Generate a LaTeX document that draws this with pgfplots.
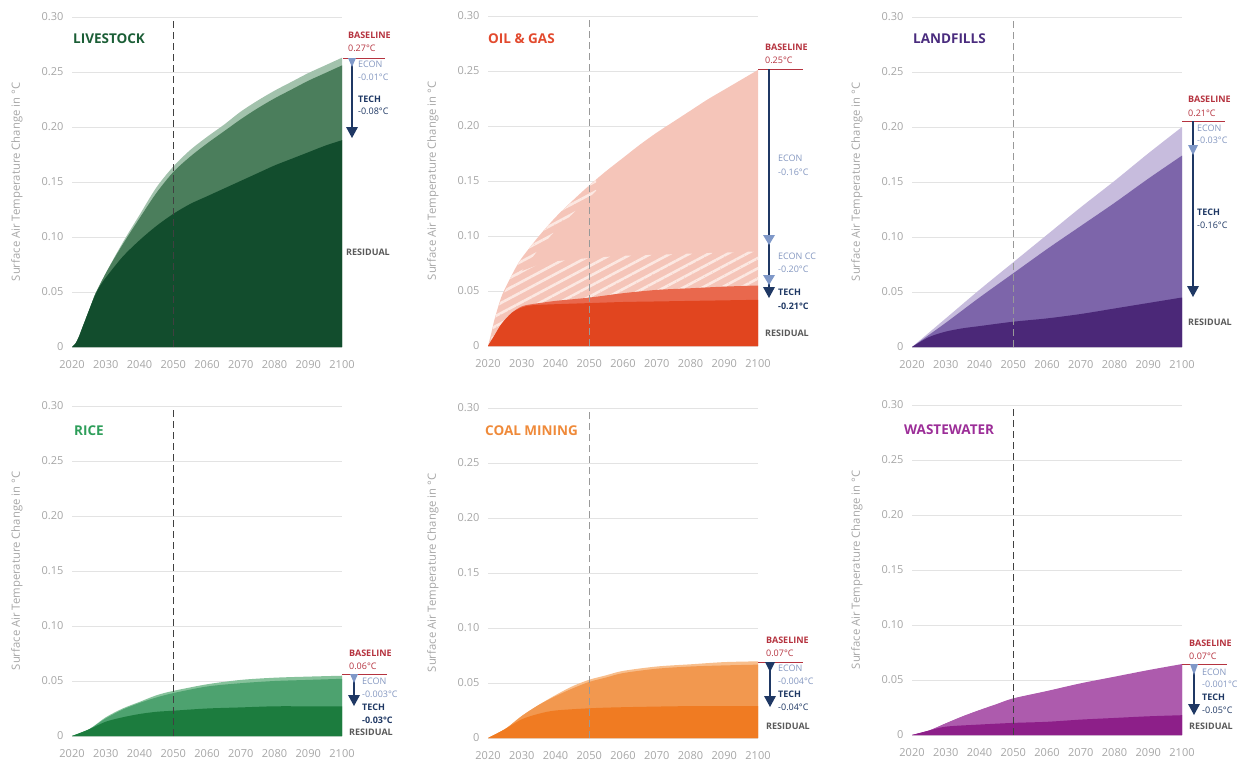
\documentclass[border=0pt]{standalone}
\usepackage{fontspec}
\setmainfont{Open Sans}
\usepackage{pgfplots}
\pgfplotsset{compat=1.18}
\usetikzlibrary{patterns.meta}

\definecolor{gridc}{HTML}{E3E3E3}
\definecolor{tickc}{HTML}{A6A6A6}
\definecolor{basered}{HTML}{B5333F}
\definecolor{econc}{HTML}{8497C0}
\definecolor{navyc}{HTML}{1F3864}
\definecolor{econhead}{HTML}{7F98C8}
\definecolor{resc}{HTML}{595959}
\definecolor{lsT}{HTML}{1B5E36}\definecolor{lsL}{HTML}{A2C2AC}\definecolor{lsM}{HTML}{4B7E5C}\definecolor{lsD}{HTML}{124D2D}
\definecolor{ogT}{HTML}{E24A2E}\definecolor{ogL}{HTML}{F5C5B9}\definecolor{ogM}{HTML}{E9684D}\definecolor{ogD}{HTML}{E1451F}\definecolor{ogH}{HTML}{FCE8E2}
\definecolor{lfT}{HTML}{4A2C7E}\definecolor{lfL}{HTML}{C7BCDD}\definecolor{lfM}{HTML}{7D65AA}\definecolor{lfD}{HTML}{4B2878}
\definecolor{rcT}{HTML}{2E9E5A}\definecolor{rcL}{HTML}{86C29B}\definecolor{rcM}{HTML}{4DA26F}\definecolor{rcD}{HTML}{1C7C3E}
\definecolor{clT}{HTML}{EF8A3A}\definecolor{clL}{HTML}{F8BE8C}\definecolor{clM}{HTML}{F2984F}\definecolor{clD}{HTML}{F07B22}
\definecolor{wwT}{HTML}{9C2E98}\definecolor{wwL}{HTML}{AD5BAD}\definecolor{wwD}{HTML}{8D1F89}

\pgfplotsset{panel/.style={
  scale only axis, width=270pt, height=330pt,
  xmin=2020, xmax=2100, ymin=0, ymax=0.30,
  axis line style={draw=none},
  major tick length=0pt,
  xtick={2020,2030,2040,2050,2060,2070,2080,2090,2100},
  xticklabels={2020,2030,2040,2050,2060,2070,2080,2090,2100},
  ytick={0,0.05,0.10,0.15,0.20,0.25,0.30},
  yticklabels={0,0.05,0.10,0.15,0.20,0.25,0.30},
  ymajorgrids, grid style={color=gridc, line width=0.8pt},
  tick label style={font=\fontsize{11}{13}\selectfont, text=tickc},
  xticklabel style={yshift=-10pt},
  yticklabel style={xshift=-5pt},
  ylabel={Surface Air Temperature Change in °C},
  ylabel style={font=\fontsize{11.3}{13}\selectfont, text=tickc, at={(axis description cs:-0.17,0.5)}, anchor=south},
  clip=false,
  anchor=south west,
  every axis plot/.append style={smooth, tension=0.5},
}}
\tikzset{
  ttl/.style={anchor=west, inner sep=0pt, font=\fontsize{13.5}{15}\selectfont\bfseries},
  bl/.style={anchor=west, inner sep=0pt, font=\fontsize{9}{10}\selectfont\bfseries, text=basered},
  blv/.style={anchor=west, inner sep=0pt, font=\fontsize{9}{10}\selectfont, text=basered},
  ec/.style={anchor=west, inner sep=0pt, font=\fontsize{9}{10}\selectfont, text=econc},
  th/.style={anchor=west, inner sep=0pt, font=\fontsize{9}{10}\selectfont\bfseries, text=navyc},
  thv/.style={anchor=west, inner sep=0pt, font=\fontsize{9}{10}\selectfont, text=navyc},
  rs/.style={anchor=west, inner sep=0pt, font=\fontsize{9}{10}\selectfont\bfseries, text=resc},
  dashdark/.style={color=black!75, line width=1pt, dash pattern=on 7pt off 4pt},
  dashlight/.style={color=black!40, line width=1.2pt, dash pattern=on 7pt off 4pt},
}

\begin{document}
\begin{tikzpicture}
\useasboundingbox (0pt,0pt) rectangle (1251pt,-763pt);

%================ LIVESTOCK
\begin{axis}[panel, at={(72pt,-347pt)}]
\addplot[fill=lsL, draw=none] coordinates {(2020,0)(2021,0.003)(2022,0.009)(2023,0.017)(2024,0.025)(2025,0.033)(2026,0.041)(2027,0.049)(2030,0.067)(2033,0.084)(2036,0.100)(2040,0.120)(2045,0.145)(2050,0.164)(2055,0.179)(2060,0.191)(2065,0.202)(2070,0.214)(2075,0.224)(2080,0.233)(2085,0.241)(2090,0.249)(2095,0.256)(2100,0.263)} \closedcycle;
\addplot[fill=lsM, draw=none] coordinates {(2020,0)(2021,0.003)(2022,0.009)(2023,0.017)(2024,0.025)(2025,0.033)(2026,0.041)(2027,0.049)(2030,0.067)(2033,0.083)(2036,0.098)(2040,0.117)(2045,0.140)(2050,0.159)(2055,0.173)(2060,0.185)(2065,0.196)(2070,0.207)(2075,0.217)(2080,0.226)(2085,0.234)(2090,0.242)(2095,0.249)(2100,0.256)} \closedcycle;
\addplot[fill=lsD, draw=none] coordinates {(2020,0)(2021,0.003)(2022,0.009)(2023,0.017)(2024,0.025)(2025,0.033)(2026,0.041)(2027,0.048)(2028,0.054)(2030,0.063)(2035,0.082)(2040,0.097)(2045,0.110)(2050,0.121)(2055,0.130)(2060,0.137)(2065,0.144)(2070,0.151)(2075,0.158)(2080,0.165)(2085,0.171)(2090,0.177)(2095,0.183)(2100,0.188)} \closedcycle;
\draw[dashdark] (axis cs:2050,0) -- (axis cs:2050,0.30);
\coordinate (c1) at (axis cs:2100,0);
\end{axis}
\begin{scope}[shift={(c1)}]
\node[ttl, text=lsT] at (-269pt,308pt) {LIVESTOCK};
\node[bl] at (6pt,312pt) {BASELINE};
\node[blv] at (6pt,299pt) {0.27°C};
\draw[basered, line width=1pt] (1pt,289pt) -- (43pt,289pt);
\draw[navyc, line width=1.2pt] (10pt,289pt) -- (10pt,215pt);
\fill[econhead] (10pt,280pt) -- (6pt,289pt) -- (14pt,289pt) -- cycle;
\fill[navyc] (10pt,209pt) -- (4pt,220pt) -- (16pt,220pt) -- cycle;
\node[ec] at (16pt,283pt) {ECON};
\node[ec] at (16pt,270pt) {-0.01°C};
\node[th] at (16pt,248pt) {TECH};
\node[thv] at (16pt,236pt) {-0.08°C};
\node[rs] at (4pt,95pt) {RESIDUAL};
\end{scope}

%================ OIL & GAS
\begin{axis}[panel, at={(488pt,-346pt)}]
\addplot[fill=ogL, draw=none] coordinates {(2020,0)(2021,0.012)(2022,0.025)(2024,0.045)(2026,0.058)(2028,0.070)(2030,0.080)(2035,0.0996)(2040,0.117)(2045,0.132)(2050,0.146)(2055,0.159)(2060,0.171)(2065,0.183)(2070,0.194)(2075,0.204)(2080,0.214)(2085,0.224)(2090,0.233)(2095,0.242)(2100,0.251)} \closedcycle;
\addplot[sharp plot, pattern={Lines[angle=28,distance=9pt,line width=2.6pt]}, pattern color=ogH, draw=none] coordinates {(2021,0.01)(2022,0.024)(2023,0.035)(2025,0.050)(2027,0.060)(2030,0.068)(2035,0.074)(2040,0.077)(2050,0.080)(2060,0.082)(2070,0.083)(2080,0.084)(2090,0.085)(2100,0.086)(2100,0.055)(2090,0.054)(2080,0.0525)(2070,0.051)(2060,0.048)(2050,0.044)(2040,0.041)(2033,0.038)(2030,0.036)(2027,0.030)(2024,0.020)(2022,0.010)(2021,0.005)} -- cycle;
\addplot[sharp plot, pattern={Lines[angle=28,distance=9pt,line width=2.6pt]}, pattern color=ogH, draw=none] coordinates {(2026,0.058)(2028,0.070)(2030,0.080)(2035,0.0996)(2040,0.117)(2045,0.132)(2050,0.146)(2052,0.151)(2052,0.141)(2050,0.135)(2045,0.120)(2040,0.105)(2035,0.088)(2030,0.068)(2026,0.050)} -- cycle;
\addplot[fill=ogM, draw=none] coordinates {(2020,0)(2021,0.005)(2022,0.010)(2024,0.020)(2027,0.030)(2030,0.036)(2033,0.038)(2040,0.041)(2050,0.044)(2060,0.048)(2070,0.051)(2080,0.0525)(2090,0.054)(2100,0.055)} \closedcycle;
\addplot[fill=ogD, draw=none] coordinates {(2020,0)(2021,0.005)(2022,0.010)(2024,0.020)(2027,0.030)(2030,0.035)(2033,0.037)(2040,0.038)(2050,0.039)(2060,0.040)(2070,0.0405)(2080,0.041)(2090,0.0415)(2100,0.042)} \closedcycle;
\draw[dashlight] (axis cs:2050,0) -- (axis cs:2050,0.30);
\coordinate (c2) at (axis cs:2100,0);
\end{axis}
\begin{scope}[shift={(c2)}]
\node[ttl, text=ogT] at (-270pt,307pt) {OIL \& GAS};
\node[bl] at (7pt,299pt) {BASELINE};
\node[blv] at (7pt,286pt) {0.25°C};
\draw[basered, line width=1pt] (0pt,277pt) -- (45pt,277pt);
\draw[navyc, line width=1.2pt] (11pt,277pt) -- (11pt,55pt);
\fill[econhead] (11pt,101pt) -- (5pt,111pt) -- (17pt,111pt) -- cycle;
\fill[econhead] (11pt,61pt) -- (5pt,71pt) -- (17pt,71pt) -- cycle;
\fill[navyc] (11pt,48pt) -- (5pt,59pt) -- (17pt,59pt) -- cycle;
\node[ec] at (20pt,188pt) {ECON};
\node[ec] at (20pt,174pt) {-0.16°C};
\node[ec] at (20pt,90pt) {ECON CC};
\node[ec] at (20pt,77pt) {-0.20°C};
\node[th] at (20pt,54pt) {TECH};
\node[th] at (20pt,40pt) {-0.21°C};
\node[rs] at (7pt,13pt) {RESIDUAL};
\end{scope}

%================ LANDFILLS
\begin{axis}[panel, at={(912pt,-347pt)}]
\addplot[fill=lfL, draw=none] coordinates {(2020,0)(2030,0.026)(2040,0.052)(2050,0.077)(2060,0.102)(2070,0.127)(2080,0.151)(2090,0.176)(2100,0.200)} \closedcycle;
\addplot[fill=lfM, draw=none] coordinates {(2020,0)(2030,0.022)(2040,0.045)(2050,0.067)(2060,0.089)(2070,0.110)(2080,0.131)(2090,0.153)(2100,0.174)} \closedcycle;
\addplot[fill=lfD, draw=none] coordinates {(2020,0)(2025,0.009)(2030,0.014)(2035,0.017)(2040,0.019)(2050,0.023)(2060,0.026)(2070,0.030)(2080,0.035)(2090,0.040)(2100,0.045)} \closedcycle;
\draw[dashlight] (axis cs:2050,0) -- (axis cs:2050,0.30);
\coordinate (c3) at (axis cs:2100,0);
\end{axis}
\begin{scope}[shift={(c3)}]
\node[ttl, text=lfT] at (-269pt,308pt) {LANDFILLS};
\node[bl] at (6pt,248pt) {BASELINE};
\node[blv] at (6pt,234pt) {0.21°C};
\draw[basered, line width=1pt] (0pt,226pt) -- (43pt,226pt);
\draw[navyc, line width=1.2pt] (11pt,226pt) -- (11pt,57pt);
\fill[econhead] (11pt,192pt) -- (6pt,202pt) -- (16pt,202pt) -- cycle;
\fill[navyc] (11pt,50pt) -- (5pt,61pt) -- (17pt,61pt) -- cycle;
\node[ec] at (15pt,219pt) {ECON};
\node[ec] at (15pt,207pt) {-0.03°C};
\node[th] at (15pt,135pt) {TECH};
\node[thv] at (15pt,122pt) {-0.16°C};
\node[rs] at (6pt,25pt) {RESIDUAL};
\end{scope}

%================ RICE
\begin{axis}[panel, at={(72pt,-736pt)}]
\addplot[fill=rcL, draw=none] coordinates {(2020,0)(2025,0.006)(2030,0.017)(2035,0.025)(2040,0.031)(2045,0.037)(2050,0.041)(2060,0.047)(2070,0.051)(2080,0.053)(2090,0.054)(2100,0.0548)} \closedcycle;
\addplot[fill=rcM, draw=none] coordinates {(2020,0)(2025,0.006)(2030,0.016)(2035,0.024)(2040,0.030)(2045,0.035)(2050,0.039)(2060,0.045)(2070,0.048)(2080,0.050)(2090,0.051)(2100,0.052)} \closedcycle;
\addplot[fill=rcD, draw=none] coordinates {(2020,0)(2025,0.006)(2030,0.013)(2035,0.017)(2040,0.020)(2045,0.022)(2050,0.023)(2060,0.025)(2070,0.026)(2080,0.027)(2090,0.027)(2100,0.027)} \closedcycle;
\draw[dashdark] (axis cs:2050,0) -- (axis cs:2050,0.30);
\coordinate (c4) at (axis cs:2100,0);
\end{axis}
\begin{scope}[shift={(c4)}]
\node[ttl, text=rcT] at (-268pt,305pt) {RICE};
\node[bl] at (7pt,83pt) {BASELINE};
\node[blv] at (7pt,70pt) {0.06°C};
\draw[basered, line width=1pt] (0pt,62pt) -- (45pt,62pt);
\draw[navyc, line width=1.2pt] (12pt,62pt) -- (12pt,36pt);
\fill[econhead] (12pt,53pt) -- (8pt,62pt) -- (16pt,62pt) -- cycle;
\fill[navyc] (12pt,30pt) -- (6pt,41pt) -- (18pt,41pt) -- cycle;
\node[ec] at (20pt,55pt) {ECON};
\node[ec] at (20pt,42pt) {-0.003°C};
\node[th] at (20pt,29pt) {TECH};
\node[th] at (20pt,16pt) {-0.03°C};
\node[rs] at (7pt,4pt) {RESIDUAL};
\end{scope}

%================ COAL MINING
\begin{axis}[panel, at={(488pt,-738pt)}]
\addplot[fill=clL, draw=none] coordinates {(2020,0)(2025,0.008)(2030,0.020)(2035,0.030)(2040,0.039)(2045,0.047)(2050,0.053)(2055,0.057)(2060,0.061)(2070,0.065)(2080,0.067)(2090,0.069)(2100,0.0697)} \closedcycle;
\addplot[fill=clM, draw=none] coordinates {(2020,0)(2025,0.008)(2030,0.020)(2035,0.030)(2040,0.038)(2045,0.045)(2050,0.051)(2055,0.055)(2060,0.059)(2070,0.063)(2080,0.065)(2090,0.066)(2100,0.0667)} \closedcycle;
\addplot[fill=clD, draw=none] coordinates {(2020,0)(2025,0.008)(2030,0.017)(2035,0.022)(2040,0.025)(2050,0.027)(2060,0.028)(2080,0.029)(2100,0.029)} \closedcycle;
\draw[dashlight] (axis cs:2050,0) -- (axis cs:2050,0.30);
\coordinate (c5) at (axis cs:2100,0);
\end{axis}
\begin{scope}[shift={(c5)}]
\node[ttl, text=clT] at (-273pt,307pt) {COAL MINING};
\node[bl] at (8pt,98pt) {BASELINE};
\node[blv] at (8pt,85pt) {0.07°C};
\draw[basered, line width=1pt] (0pt,76pt) -- (45pt,76pt);
\draw[navyc, line width=1.2pt] (12pt,76pt) -- (12pt,37pt);
\fill[navyc] (12pt,66pt) -- (7pt,76pt) -- (17pt,76pt) -- cycle;
\fill[navyc] (12pt,31pt) -- (6pt,42pt) -- (18pt,42pt) -- cycle;
\node[ec] at (20pt,70pt) {ECON};
\node[ec] at (20pt,57pt) {-0.004°C};
\node[th] at (20pt,44pt) {TECH};
\node[thv] at (20pt,31pt) {-0.04°C};
\node[rs] at (8pt,12pt) {RESIDUAL};
\end{scope}

%================ WASTEWATER
\begin{axis}[panel, at={(912pt,-735pt)}]
\addplot[fill=wwL, draw=none] coordinates {(2020,0)(2025,0.004)(2030,0.0106)(2035,0.017)(2040,0.0227)(2045,0.028)(2050,0.0333)(2060,0.040)(2070,0.047)(2080,0.053)(2090,0.059)(2100,0.0645)} \closedcycle;
\addplot[fill=wwL, draw=none] coordinates {(2020,0)(2025,0.004)(2030,0.0105)(2035,0.0168)(2040,0.0224)(2045,0.0277)(2050,0.0329)(2060,0.0396)(2070,0.0464)(2080,0.0523)(2090,0.0582)(2100,0.0635)} \closedcycle;
\addplot[fill=wwD, draw=none] coordinates {(2020,0)(2025,0.004)(2030,0.0076)(2040,0.0095)(2050,0.011)(2060,0.012)(2070,0.014)(2080,0.0155)(2090,0.017)(2100,0.018)} \closedcycle;
\draw[dashdark] (axis cs:2050,0) -- (axis cs:2050,0.30);
\coordinate (c6) at (axis cs:2100,0);
\end{axis}
\begin{scope}[shift={(c6)}]
\node[ttl, text=wwT] at (-278pt,305pt) {WASTEWATER};
\node[bl] at (7pt,92pt) {BASELINE};
\node[blv] at (7pt,79pt) {0.07°C};
\draw[basered, line width=1pt] (0pt,71pt) -- (45pt,71pt);
\draw[navyc, line width=1.2pt] (12pt,71pt) -- (12pt,26pt);
\fill[econhead] (12pt,60pt) -- (8pt,71pt) -- (16pt,71pt) -- cycle;
\fill[navyc] (12pt,20pt) -- (6pt,31pt) -- (18pt,31pt) -- cycle;
\node[ec] at (20pt,63pt) {ECON};
\node[ec] at (20pt,51pt) {-0.001°C};
\node[th] at (20pt,38pt) {TECH};
\node[thv] at (20pt,25pt) {-0.05°C};
\node[rs] at (7pt,9pt) {RESIDUAL};
\end{scope}
\end{tikzpicture}
\end{document}
